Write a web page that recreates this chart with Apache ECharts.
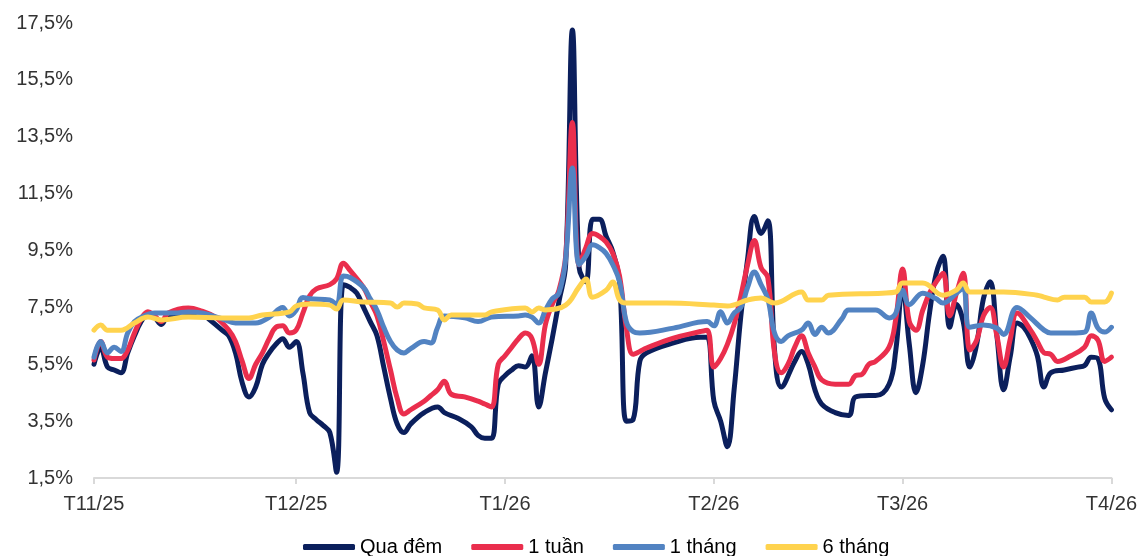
<!DOCTYPE html>
<html>
<head>
<meta charset="utf-8">
<script src="https://cdn.jsdelivr.net/npm/echarts@6/dist/echarts.min.js"></script>
<style>
html,body{margin:0;padding:0;background:#fff;}
#chart{width:1140px;height:556px;}
</style>
</head>
<body>
<div id="chart"></div>
<script>
// Day offsets counted from 01/11/2025
const xTickDays = [0, 30, 61, 92, 120, 151];
const xTickLabels = ['T11/25', 'T12/25', 'T1/26', 'T2/26', 'T3/26', 'T4/26'];
const yTickValues = [1.5, 3.5, 5.5, 7.5, 9.5, 11.5, 13.5, 15.5, 17.5];
const seriesNames = ['Qua đêm', '1 tuần', '1 tháng', '6 tháng'];

// Qua đêm
const onDays = [0,1,2,3,4,5,6,7,8,9,10,11,14,16,17,19,20,21,22,23,24,25,26,27,28,29,30,31,32,33,34,35,36,37,38,39,40,41,42,43,44,45,46,47,49,51,52,54,56,57,58,59,60,61,62,63,64,65,66,67,68,69,70,71,72,73,74,75,76,77,78,79,80,81,82,86,90,91,92,93,94,95,96,97,98,99,100,101,102,104,105,106,107,108,110,112,113,115,116,118,119,120,121,122,123,124,125,126,127,128,129,130,131,132,133,134,135,136,137,138,139,140,141,142,144,146,147,148,149,150,151];
const onVals = [5.5,6.1,5.4,5.3,5.2,5.9,6.5,7.0,7.3,7.15,6.9,7.2,7.3,7.3,7.1,6.7,6.5,5.9,4.85,4.35,4.7,5.5,5.9,6.2,6.4,6.1,6.3,5.2,3.8,3.55,3.35,3.1,1.7,8.3,8.2,8.0,7.5,7.0,6.5,5.4,4.3,3.4,3.1,3.4,3.8,4.0,3.8,3.6,3.3,3.0,2.9,2.9,4.8,5.1,5.3,5.45,5.4,5.8,4.0,5.2,6.4,7.7,9.0,17.25,8.9,8.4,10.6,10.6,10.0,9.45,8.4,3.5,3.55,5.6,5.9,6.25,6.45,6.45,4.2,3.5,2.6,4.6,7.2,9.2,10.7,10.1,10.55,6.0,4.7,5.6,5.95,5.5,4.6,4.1,3.8,3.7,4.35,4.4,4.4,4.8,6.0,8.2,6.2,4.5,5.5,7.3,8.7,9.3,6.8,7.6,7.0,5.4,6.2,7.8,8.4,6.5,4.6,5.8,6.95,6.8,6.4,5.8,4.7,5.2,5.3,5.4,5.45,5.75,5.7,4.3,3.9];

// 1 tuần
const w1Days = [0,1,2,3,4,5,6,7,8,9,10,11,14,16,18,20,21,22,23,24,25,26,27,28,29,30,31,32,33,35,36,37,38,40,41,42,43,44,45,46,47,49,50,51,52,53,55,57,58,59,60,61,62,63,64,65,66,67,68,69,70,71,72,73,74,75,76,77,78,79,80,81,82,86,90,91,92,93,94,95,96,97,98,99,100,101,102,103,104,105,106,107,108,110,112,113,114,115,116,118,119,120,121,122,123,124,125,126,127,128,129,130,131,132,133,134,135,136,137,139,140,141,142,143,145,147,148,149,150,151];
const w1Vals = [5.65,6.3,5.75,5.7,5.7,6.0,6.6,7.1,7.35,7.2,7.0,7.3,7.48,7.37,7.16,6.7,6.3,5.6,5.0,5.5,5.9,6.4,6.8,6.85,6.6,6.7,7.3,7.9,8.15,8.3,8.5,9.05,8.8,8.2,7.7,7.2,6.3,5.3,4.3,3.75,3.9,4.2,4.4,4.6,4.9,4.45,4.35,4.2,4.1,4.0,5.5,5.8,6.1,6.4,6.6,6.4,5.5,6.9,7.6,8.1,9.3,14.0,9.0,9.6,10.1,10.0,9.8,9.4,8.6,6.8,5.85,5.95,6.07,6.42,6.65,6.7,5.4,5.7,6.2,6.9,7.9,9.0,9.85,8.9,8.55,5.9,5.2,5.5,6.1,6.5,5.9,5.4,4.95,4.8,4.8,5.1,5.15,5.5,5.6,6.1,7.1,8.85,7.0,6.7,7.4,8.0,8.4,8.7,7.2,8.0,8.7,6.0,6.35,7.2,7.5,6.5,5.4,6.4,7.3,6.7,6.3,5.9,5.85,5.6,5.8,6.1,6.5,6.35,5.6,5.75];

// 1 tháng
const m1Days = [0,1,2,3,4,5,6,7,9,12,14,16,19,21,24,26,28,29,30,31,32,35,36,37,38,40,41,42,43,44,45,46,47,49,50,51,52,55,57,59,63,64,65,66,67,68,69,70,71,72,73,74,75,76,77,78,79,80,81,86,91,92,93,94,95,96,97,98,99,100,101,102,103,105,106,107,108,109,111,112,116,118,119,120,121,123,125,126,128,129,130,132,134,135,137,139,141,142,145,147,148,149,150,151];
const m1Vals = [5.75,6.3,5.9,6.1,5.95,6.6,7.0,7.15,7.3,7.3,7.34,7.3,7.1,6.95,6.95,7.15,7.5,7.2,7.4,7.85,7.8,7.76,7.6,8.6,8.55,8.2,7.8,7.4,6.8,6.3,6.0,5.9,6.05,6.3,6.25,6.8,7.2,7.13,7.0,7.16,7.2,7.23,7.16,6.95,7.4,7.8,8.0,9.2,12.4,9.0,9.3,9.7,9.6,9.4,9.0,8.4,7.0,6.65,6.6,6.77,7.0,6.85,7.35,6.95,7.3,7.5,8.2,8.74,8.3,7.8,6.6,6.3,6.5,6.7,6.95,6.55,6.8,6.6,7.1,7.41,7.41,7.13,7.3,8.1,7.6,8.0,7.8,7.65,8.0,8.18,6.8,6.88,6.77,6.55,7.5,7.13,6.7,6.6,6.6,6.63,7.3,6.77,6.63,6.8];

// 6 tháng
const m6Days = [0,1,2,4,6,8,10,14,19,23,25,29,30,32,35,36,37,40,44,45,46,48,49,51,52,53,58,59,64,65,66,67,70,72,73,74,76,77,78,79,85,92,94,97,99,101,105,106,108,109,117,119,120,123,126,128,129,130,135,140,141,143,144,147,148,150,151];
const m6Vals = [6.7,6.88,6.7,6.7,6.95,7.16,7.06,7.16,7.13,7.13,7.23,7.34,7.55,7.62,7.58,7.44,7.76,7.69,7.65,7.51,7.65,7.62,7.48,7.41,7.06,7.23,7.23,7.34,7.48,7.34,7.48,7.41,7.58,8.22,8.5,7.86,8.1,8.39,7.76,7.65,7.65,7.58,7.55,7.76,7.83,7.65,8.04,7.76,7.76,7.93,8.0,8.04,8.36,8.36,7.93,8.11,8.36,8.04,8.04,7.93,7.86,7.76,7.86,7.86,7.69,7.69,8.0];

const colors = ['#0B1F5C', '#EA2E4D', '#5283C2', '#FFD34E'];
const dayLists = [onDays, w1Days, m1Days, m6Days];
const valLists = [onVals, w1Vals, m1Vals, m6Vals];

const chart = echarts.init(document.getElementById('chart'), null, {renderer: 'canvas'});
const fontFamily = 'Arial, "Liberation Sans", sans-serif';

const series = seriesNames.map((name, i) => ({
  name: name,
  type: 'line',
  data: dayLists[i].map((d, k) => [d, valLists[i][k]]),
  smooth: 0.4,
  symbol: 'none',
  clip: false,
  lineStyle: {color: colors[i], width: 5, cap: 'round', join: 'round'},
  itemStyle: {color: colors[i]},
  emphasis: {disabled: true},
  z: 2 + i
}));

chart.setOption({
  animation: false,
  backgroundColor: '#ffffff',
  grid: {left: 94, right: 27, top: 23, bottom: 78},
  xAxis: {
    type: 'value',
    min: 0,
    max: 151,
    axisLine: {show: true, lineStyle: {color: '#D9D9D9', width: 2}},
    axisTick: {show: true, customValues: xTickDays, length: 6, lineStyle: {color: '#D9D9D9', width: 2}},
    axisLabel: {
      customValues: xTickDays,
      margin: 16,
      color: '#333333',
      fontSize: 20,
      fontFamily: fontFamily,
      formatter: function (v) {
        const idx = xTickDays.indexOf(Math.round(v));
        return idx >= 0 ? xTickLabels[idx] : '';
      }
    },
    splitLine: {show: false}
  },
  yAxis: {
    type: 'value',
    min: 1.5,
    max: 17.5,
    axisLine: {show: false},
    axisTick: {show: false},
    splitLine: {show: false},
    axisLabel: {
      customValues: yTickValues,
      margin: 21,
      color: '#333333',
      fontSize: 20,
      fontFamily: fontFamily,
      formatter: function (v) { return v.toFixed(1).replace('.', ',') + '%'; }
    }
  },
  legend: {
    data: seriesNames,
    left: 298,
    top: 532,
    itemWidth: 52,
    itemHeight: 6,
    itemGap: 29,
    icon: 'roundRect',
    textStyle: {color: '#000000', fontSize: 20, fontFamily: fontFamily},
    selectedMode: false
  },
  series: series
});
</script>
</body>
</html>
